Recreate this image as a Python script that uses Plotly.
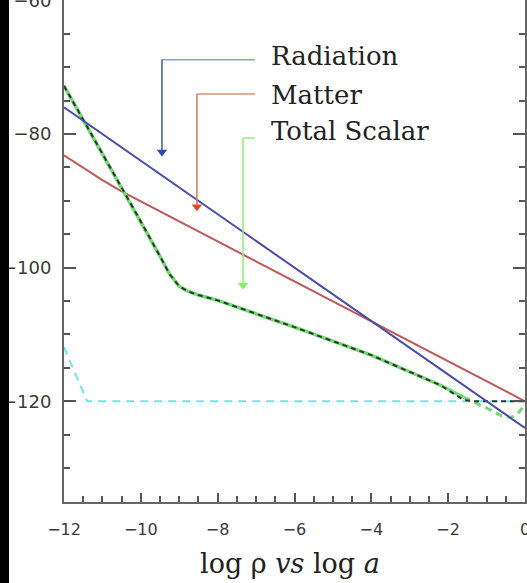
import plotly.graph_objects as go

# ---- data ----
rad_x = [-12, 0]
rad_y = [-76.0, -124.0]

mat_x = [-12, -11.5, -11, -10.5, -10, -8, -6, -4, -2, 0]
mat_y = [-83.2, -85.1, -86.9, -88.6, -90.1, -96.1, -102.1, -108.1, -114.0, -120.0]

tot_x = [-12, -11, -10, -9.5, -9.25, -9.0, -8.75, -8.5, -8.0, -7.0, -6.0, -4.0, -2.2, -1.6]
tot_y = [-72.8, -82.9, -93.1, -98.3, -101.0, -102.8, -103.6, -104.1, -104.9, -106.9, -108.9, -113.1, -117.6, -119.4]

tail_x = [-1.6, -1.0, -0.6, -0.35, -0.15, 0.0]
tail_y = [-119.4, -121.0, -122.2, -122.4, -121.6, -120.4]

fit_x = tot_x[:-1] + [-1.6, -1.3, 0.0]
fit_y = tot_y[:-1] + [-119.8, -120.0, -120.0]

cyan_x = [-12, -11.4, 0]
cyan_y = [-111.9, -120.0, -120.0]

labels = ["Radiation", "Matter", "Total Scalar"]

fig = go.Figure()
fig.add_trace(go.Scatter(x=cyan_x, y=cyan_y, mode="lines",
                         line=dict(color="#6fe6e6", width=2, dash="8px,6px")))
fig.add_trace(go.Scatter(x=mat_x, y=mat_y, mode="lines",
                         line=dict(color="#c05858", width=2)))
fig.add_trace(go.Scatter(x=tot_x, y=tot_y, mode="lines",
                         line=dict(color="#6fdc6f", width=3.5)))
fig.add_trace(go.Scatter(x=tail_x, y=tail_y, mode="lines",
                         line=dict(color="#6fdc6f", width=3, dash="7px,5px")))
fig.add_trace(go.Scatter(x=fit_x, y=fit_y, mode="lines",
                         line=dict(color="#333333", width=2, dash="5px,4px")))
fig.add_trace(go.Scatter(x=rad_x, y=rad_y, mode="lines",
                         line=dict(color="#4a4aaa", width=2)))

# legend-like labels with elbow arrows
lab_y = [-68.3, -74.2, -79.6]
hseg_y = [-68.9, -74.0, -80.6]
vx = [-9.45, -8.54, -7.34]
tip_y = [-83.6, -91.8, -103.5]
hcol = ["#8fa0c8", "#d89080", "#9af07a"]
vcol = ["#3a5a9a", "#d07a68", "#8cf070"]
hcolors = ["#2a48b0", "#e84020", "#80f060"]
for i in range(3):
    fig.add_shape(type="line", x0=vx[i], x1=-7.03, y0=hseg_y[i], y1=hseg_y[i],
                  line=dict(color=hcol[i], width=1.5))
    fig.add_shape(type="line", x0=vx[i], x1=vx[i], y0=hseg_y[i], y1=tip_y[i] + 1.2,
                  line=dict(color=vcol[i], width=1.5))
    fig.add_trace(go.Scatter(x=[vx[i]], y=[tip_y[i] + 0.9], mode="markers",
                             marker=dict(symbol="triangle-down", size=9, color=hcolors[i])))
    fig.add_annotation(x=-6.66, y=lab_y[i], text=labels[i], showarrow=False,
                       xanchor="left", yanchor="middle",
                       font=dict(family="DejaVu Serif", size=26, color="#222222"))

# black strip of the photographed slide at far left
fig.add_shape(type="rect", xref="paper", yref="paper",
              x0=-64 / 461, x1=-55 / 461, y0=-0.2, y1=1.05,
              fillcolor="black", line=dict(width=0), layer="above")

fig.add_annotation(xref="paper", yref="paper", x=0.49, y=-0.122,
                   text="log ρ <i>vs</i> log <i>a</i>", showarrow=False,
                   xanchor="center", yanchor="middle",
                   font=dict(family="DejaVu Serif", size=27, color="#222222"))

axis_common = dict(showline=True, linecolor="#666666", linewidth=2,
                   ticks="inside", tickcolor="#555555", tickwidth=2,
                   showgrid=False, zeroline=False, automargin=False,
                   ticklabeloverflow="allow",
                   tickfont=dict(family="DejaVu Sans", size=16, color="#3a3a3a"))

fig.update_layout(
    width=527, height=583,
    margin=dict(l=64, r=2, t=0, b=81, autoexpand=False),
    paper_bgcolor="white", plot_bgcolor="white",
    showlegend=False,
    xaxis=dict(range=[-12, 0], dtick=2, tick0=0, ticklen=9,
               minor=dict(dtick=0.5, ticklen=6, ticks="inside", tickcolor="#555555", tickwidth=1.5),
               ticklabelstandoff=12, mirror=False, **axis_common),
    yaxis=dict(range=[-135.07, -59.95], dtick=20, tick0=0, ticklen=12,
               minor=dict(dtick=5, ticklen=6, ticks="inside", tickcolor="#555555", tickwidth=2),
               ticklabelstandoff=7, mirror="ticks", **axis_common),
)
fig.update_yaxes(tickfont=dict(family="DejaVu Sans", size=18, color="#3a3a3a"))

fig.write_html("out.html", config={"displayModeBar": False},
               post_script="document.body.style.margin='0';document.body.style.overflow='hidden';")
